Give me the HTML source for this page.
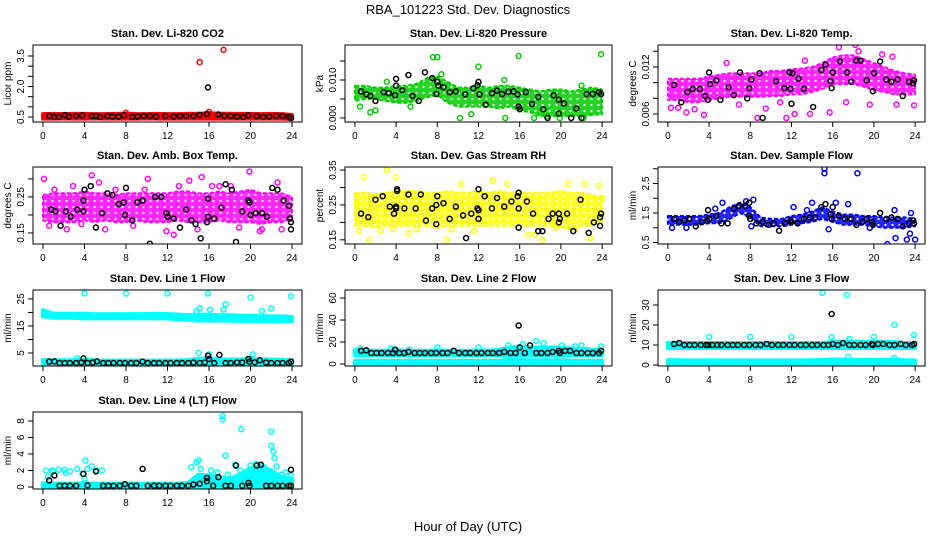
<!DOCTYPE html>
<html><head><meta charset="utf-8">
<style>
html,body{margin:0;padding:0;background:#fff;}
svg{display:block;font-family:"Liberation Sans",sans-serif;}
</style></head>
<body>
<svg id="fig" width="936" height="540" viewBox="0 0 936 540">
<text x="468" y="14" text-anchor="middle" font-size="13">RBA_101223  Std. Dev. Diagnostics</text>
<text x="468" y="531" text-anchor="middle" font-size="13">Hour of Day (UTC)</text>
</svg>
<script>
const xTicks=[0,4,8,12,16,20,24];
const hours=[0,1,2,3,4,5,6,7,8,9,10,11,12,13,14,15,16,17,18,19,20,21,22,23,24];

// Panel 1 CO2
const co2Lo=[0.42,0.42,0.43,0.42,0.42,0.43,0.42,0.42,0.42,0.42,0.43,0.42,0.42,0.42,0.42,0.42,0.42,0.42,0.42,0.42,0.42,0.42,0.42,0.42,0.40];
const co2Hi=[0.64,0.65,0.64,0.65,0.65,0.64,0.64,0.65,0.66,0.64,0.64,0.65,0.64,0.64,0.65,0.66,0.68,0.66,0.66,0.65,0.65,0.64,0.65,0.64,0.60];
const co2OutX=[15.1,17.4,16.0,8.0];
const co2OutY=[3.2,3.8,0.75,0.7];
const co2BlkX=[0.6,1.1,1.5,2.1,2.5,3.2,3.8,4.7,5.1,5.5,6.2,6.7,7.3,7.8,8.6,9.1,9.7,10.3,10.9,11.8,12.6,13.2,13.8,14.5,15.1,15.8,15.9,16.9,17.5,18.1,18.7,19.3,19.8,20.6,21.2,21.8,22.5,23.1,23.7,23.9];
const co2BlkY=[0.55,0.5,0.5,0.6,0.52,0.55,0.58,0.55,0.55,0.5,0.55,0.52,0.52,0.58,0.5,0.52,0.55,0.55,0.52,0.55,0.52,0.55,0.55,0.55,0.6,0.65,1.95,0.62,0.55,0.55,0.52,0.5,0.58,0.55,0.5,0.52,0.55,0.55,0.5,0.45];

// Panel 2 Pressure
const prLo=[0.0045,0.005,0.005,0.0045,0.004,0.004,0.0045,0.0055,0.006,0.004,0.003,0.003,0.003,0.003,0.0025,0.003,0.002,0.0015,0.0005,0.0005,0.0005,0.0005,0.0005,0.0008,0.001];
const prHi=[0.0085,0.0085,0.008,0.008,0.0085,0.0085,0.009,0.0105,0.011,0.0095,0.008,0.008,0.0085,0.008,0.0085,0.0085,0.008,0.0075,0.007,0.0075,0.0075,0.007,0.0075,0.008,0.0075];
const prOutX=[7.6,8.0,12.0,15.9,23.9,14.5,0.5,1.5,2.0,8.4,3.1,10.2,11.3,14.6,17.4,18.7,19.9,22.0,22.2,5.4];
const prOutY=[0.016,0.016,0.0135,0.0163,0.0168,0.010,0.003,0.0015,0.002,0.0115,0.0095,0.0,0.001,0.0,0.0,0.0005,0.0,0.0085,0.0,0.003];
const prBlkX=[0.6,1.1,1.5,2.0,2.8,3.3,3.9,4.0,4.0,4.6,5.2,5.6,6.2,6.8,7.5,7.9,8.0,8.1,8.6,9.2,9.8,10.7,11.5,11.9,12.0,12.1,12.7,13.3,13.8,14.3,14.9,15.4,15.8,15.9,16.0,16.6,17.2,17.8,18.3,18.7,19.3,19.8,19.8,20.3,21.0,21.5,22.0,22.5,23.1,23.7,23.9];
const prBlkY=[0.007,0.0062,0.0058,0.0045,0.0068,0.0065,0.006,0.0085,0.0103,0.0073,0.0113,0.0058,0.0045,0.012,0.0105,0.0063,0.0095,0.0085,0.0081,0.0068,0.007,0.0062,0.0078,0.0086,0.0095,0.0062,0.0035,0.0065,0.0072,0.0063,0.0069,0.007,0.0062,0.003,0.0023,0.0068,0.0037,0.0055,0.0023,0.0,0.006,0.0048,0.0012,0.0038,0.0,0.0025,0.0,0.0063,0.0063,0.0068,0.0063];

// Panel 3 Li-820 Temp
const ltLo=[0.0078,0.0078,0.0075,0.0075,0.0078,0.008,0.0082,0.0082,0.0082,0.0082,0.0083,0.0083,0.0085,0.0085,0.0088,0.0092,0.0098,0.0098,0.0098,0.0095,0.009,0.0088,0.0085,0.0085,0.0085];
const ltHi=[0.0105,0.0105,0.0105,0.0105,0.0108,0.011,0.0112,0.0112,0.0112,0.0112,0.0115,0.0115,0.0117,0.0118,0.012,0.0125,0.0132,0.0135,0.0135,0.013,0.0125,0.012,0.0115,0.0112,0.011];
const ltOutX=[16.6,18.2,18.5,3.5,8.7,11.5,12.3,13.8,15.7,19.6,20.8,21.8,23.9,1.0,1.8,5.7,0.3,2.6,9.5,17.3,22.2,6.9,10.9,13.3];
const ltOutY=[0.0145,0.0148,0.014,0.0059,0.0055,0.0055,0.006,0.006,0.0062,0.0072,0.0136,0.0133,0.0071,0.0068,0.0062,0.0125,0.0068,0.0066,0.0067,0.0075,0.0072,0.0072,0.0075,0.0128];
const ltBlkX=[0.6,1.3,1.9,2.4,3.1,3.6,3.9,4.0,4.1,4.7,5.1,5.9,6.4,7.0,7.7,7.9,8.1,8.9,9.2,10.5,11.3,11.8,11.9,12.0,12.1,12.7,13.2,14.1,14.9,15.3,15.8,15.9,16.0,16.7,17.4,17.8,18.3,18.7,19.3,19.9,20.0,20.6,21.2,21.7,22.3,22.8,23.4,23.8,23.9];
const ltBlkY=[0.0097,0.0075,0.0088,0.0092,0.0092,0.0083,0.0078,0.0113,0.0098,0.0103,0.0078,0.0094,0.0084,0.0113,0.008,0.0093,0.0104,0.0112,0.0055,0.0102,0.0093,0.0113,0.0092,0.0073,0.0112,0.0105,0.0092,0.0069,0.0116,0.0123,0.0102,0.0093,0.0113,0.0127,0.0113,0.0101,0.0128,0.0128,0.0103,0.0089,0.0112,0.0127,0.0104,0.0101,0.0104,0.0083,0.0101,0.0099,0.0103];

// Panel 4 Amb Box Temp
const abLo=[0.185,0.18,0.18,0.18,0.185,0.18,0.185,0.18,0.18,0.185,0.18,0.18,0.18,0.185,0.18,0.18,0.18,0.185,0.18,0.18,0.18,0.175,0.18,0.18,0.19];
const abHi=[0.255,0.26,0.26,0.26,0.265,0.26,0.26,0.255,0.26,0.26,0.26,0.26,0.26,0.265,0.265,0.26,0.26,0.265,0.26,0.265,0.27,0.26,0.26,0.26,0.25];
const abOutX=[0.1,4.7,10.1,15.3,19.9,6.0,12.6,17.0,20.9,0.6,2.3,1.1,2.9,5.4,7.0,8.7,9.8,14.1,14.9,16.3,18.1,21.1,22.6,23.0,3.7,11.9,13.1,18.9];
const abOutY=[0.30,0.31,0.30,0.305,0.32,0.16,0.145,0.28,0.155,0.17,0.16,0.27,0.28,0.29,0.27,0.17,0.27,0.295,0.16,0.28,0.28,0.16,0.29,0.16,0.175,0.155,0.28,0.165];
const abBlkX=[0.8,1.2,1.7,2.2,2.7,3.3,3.9,3.9,4.0,4.6,5.1,5.7,6.2,6.7,7.3,7.8,7.9,8.0,8.6,9.1,9.6,10.3,10.8,11.4,11.9,12.0,12.6,13.2,13.8,14.3,14.7,15.2,15.8,15.9,15.9,16.5,17.2,17.6,18.2,18.6,19.2,19.8,19.9,20.0,20.5,21.1,21.6,22.1,22.6,23.2,23.7,23.8,23.9,23.9];
const abBlkY=[0.215,0.21,0.17,0.21,0.195,0.215,0.21,0.24,0.27,0.28,0.165,0.205,0.26,0.255,0.23,0.235,0.2,0.275,0.185,0.235,0.24,0.12,0.25,0.25,0.205,0.195,0.19,0.165,0.215,0.185,0.175,0.135,0.18,0.195,0.245,0.19,0.22,0.285,0.27,0.125,0.21,0.24,0.235,0.2,0.205,0.205,0.195,0.275,0.27,0.24,0.225,0.19,0.18,0.16];

// Panel 5 Gas Stream RH
const rhLo=[0.19,0.19,0.185,0.19,0.19,0.19,0.19,0.19,0.185,0.19,0.19,0.19,0.19,0.19,0.19,0.19,0.19,0.19,0.19,0.19,0.185,0.18,0.19,0.19,0.2];
const rhHi=[0.285,0.285,0.28,0.285,0.29,0.29,0.29,0.285,0.285,0.29,0.285,0.285,0.29,0.285,0.29,0.285,0.285,0.285,0.285,0.285,0.29,0.285,0.285,0.28,0.27];
const rhOutX=[0.9,3.1,4.0,1.4,13.4,8.9,18.2,22.9,20.7,22.3,23.7,0.4,2.5,5.2,6.0,10.3,11.6,14.8,16.8,19.5,21.4,0.2,3.7,9.4,17.5,24.0];
const rhOutY=[0.33,0.35,0.33,0.15,0.32,0.15,0.15,0.155,0.31,0.31,0.305,0.175,0.175,0.17,0.18,0.31,0.175,0.31,0.165,0.185,0.18,0.255,0.18,0.18,0.165,0.27];
const rhBlkX=[0.6,1.3,2.0,2.7,3.4,3.8,4.0,4.0,4.1,4.1,4.8,5.2,5.9,6.4,6.9,7.5,7.9,7.9,8.0,8.6,9.2,9.8,10.5,10.8,11.3,11.9,12.0,12.0,12.0,12.6,13.3,13.8,14.5,15.2,15.8,15.9,15.9,15.9,16.7,17.3,17.8,18.2,18.8,19.2,19.8,19.8,19.9,20.6,21.2,21.9,22.7,23.2,23.8,23.8,23.9];
const rhBlkY=[0.225,0.215,0.265,0.275,0.245,0.225,0.24,0.245,0.29,0.295,0.24,0.28,0.24,0.28,0.205,0.24,0.25,0.195,0.275,0.255,0.21,0.245,0.22,0.155,0.225,0.24,0.235,0.21,0.295,0.275,0.24,0.27,0.245,0.26,0.275,0.185,0.24,0.285,0.26,0.225,0.175,0.175,0.21,0.225,0.2,0.225,0.21,0.225,0.175,0.265,0.17,0.2,0.19,0.215,0.225];

// Panel 6 Sample Flow
const sfLo=[1.1,1.1,1.1,1.1,1.15,1.15,1.3,1.5,1.35,1.05,1.05,1.05,1.1,1.15,1.2,1.3,1.2,1.1,1.1,1.1,1.05,1.0,1.0,1.0,1.05];
const sfHi=[1.4,1.4,1.4,1.4,1.45,1.5,1.7,1.85,1.7,1.35,1.3,1.3,1.4,1.45,1.55,1.7,1.55,1.45,1.45,1.4,1.4,1.35,1.35,1.35,1.3];
const sfOutX=[15.2,15.2,18.4,21.3,22.1,23.2,24.0,23.5,8.3,5.3,15.6,14.0,17.5,0.4,1.8,4.6,7.6,12.2,13.5,16.3,19.6,22.0,23.6,8.1];
const sfOutY=[3.0,2.85,2.85,0.45,0.65,0.6,0.6,0.8,1.95,1.85,0.95,1.85,1.8,1.0,1.0,1.65,1.9,1.7,1.6,1.85,1.0,1.6,1.5,1.05];
const sfBlkX=[0.6,1.1,1.6,2.1,2.7,3.3,3.8,3.9,4.0,4.7,5.2,5.8,6.4,6.9,7.5,7.9,7.9,8.0,8.6,9.2,9.8,10.3,10.8,11.4,11.9,12.0,12.6,13.2,13.8,14.3,14.9,15.3,15.8,15.9,16.0,16.6,17.2,17.8,18.3,18.9,19.3,19.8,19.9,20.6,21.2,21.7,22.3,22.8,23.4,23.8,23.9];
const sfBlkY=[1.3,1.2,1.25,1.3,1.05,1.2,1.25,1.6,1.3,1.4,1.15,1.15,1.65,1.75,1.75,1.85,1.4,1.3,1.15,1.2,1.1,1.15,0.9,1.15,1.25,1.2,1.15,1.3,1.35,1.35,1.7,1.8,1.45,1.3,1.7,1.4,1.3,1.3,1.1,1.2,1.3,1.2,1.1,1.5,1.3,1.35,1.3,1.05,1.15,1.25,1.15];

// Shared black x for line flows
const lfBlkX=[0.6,1.1,1.6,2.1,2.6,3.2,3.7,3.9,4.3,4.8,5.2,5.8,6.3,6.8,7.4,7.9,8.5,9.0,9.6,10.1,10.7,11.2,11.8,12.3,12.9,13.4,14.0,14.5,15.1,15.6,15.9,16.0,16.5,17.0,17.6,18.1,18.7,19.2,19.8,19.9,20.4,20.9,21.5,22.0,22.6,23.1,23.7,23.9];

// Panel 7 Line 1
const l1aLo=[18.5,18.0,18.0,18.0,17.8,17.8,17.8,17.8,17.8,17.8,17.8,17.8,17.8,17.5,17.3,17.0,17.0,17.0,17.0,16.8,16.8,16.8,16.8,16.8,16.8];
const l1aHi=[20.8,19.6,19.5,19.5,19.5,19.3,19.3,19.3,19.4,19.4,19.4,19.5,19.4,19.2,19.0,19.2,19.2,19.0,19.0,18.8,18.8,18.6,18.6,18.5,18.3];
const l1bLo=[0.3,0.3,0.3,0.3,0.3,0.3,0.3,0.3,0.3,0.3,0.3,0.3,0.3,0.3,0.3,0.3,0.3,0.3,0.3,0.3,0.3,0.3,0.3,0.3,0.3];
const l1bHi=[2.4,2.3,2.3,2.3,2.4,2.3,2.2,2.2,2.2,2.2,2.2,2.2,2.2,2.2,2.4,2.8,3.0,2.6,2.6,2.6,2.8,2.6,2.6,2.4,2.3];
const l1OutX=[4.0,8.0,12.0,15.9,20.0,23.9,15.1,17.6,22.0,15.0,16.0,20.2,3.3,16.1,21.1,17.4,14.8];
const l1OutY=[27,27,27,27,25.5,26,21.5,23,21.5,5,4.5,4.5,3,21,20.5,21,20.5];
const l1BlkY=[1.8,1.9,1.3,1.3,1.3,1.3,1.5,3.0,1.3,1.5,1.9,1.3,1.3,1.3,1.3,1.3,1.3,1.3,1.8,1.3,1.3,1.3,1.3,1.3,1.3,1.3,1.3,1.5,1.3,1.5,4.0,2.8,1.3,4.3,1.3,1.3,1.5,1.5,2.8,1.8,1.6,2.3,1.5,1.3,1.3,1.3,1.3,1.8];

// Panel 8 Line 2
const l2aLo=[8,8,8,8,8,8,8,8,8,8,8,8,8,8,8,8,8,8,8,8,8,8,8,8,8];
const l2aHi=[13,12.5,12,12,12.5,12,12,12,12.5,12,12,12,12.5,12,13,15,16,15,15,15,15,14,14,13,13];
const l2bLo=[0,0,0,0,0,0,0,0,0,0,0,0,0,0,0,0,0,0,0,0,0,0,0,0,0];
const l2bHi=[3,3,3,3,3,3,3,3,3,3,3,3,3,3,3,4,4,3.5,3.5,3.5,3.5,3,3,3,3];
const l2OutX=[15.0,17.6,18.3,0.5,3.5,8.0,12.0,14.9,16.3,20.1,21.4,22.0,23.9,5.3];
const l2OutY=[70,21,19,14,14,15,15,17,18,17,16,17,16,13];
const l2BlkY=[12,12.5,10,10,10,10,10,13,10,10,11,10,10,10,10,10,10,10,12,10,10,10,10,10,10,10,10,11,10,10,35,15,10,17,10,10,10,11,12,10,12,12,10,10,10,10,10,12];

// Panel 9 Line 3
const l3aLo=[8.5,8.5,8.5,8.5,8.5,8.5,8.5,8.5,8.5,8.5,8.5,8.5,8.5,8.5,8.5,8.5,8.5,8.5,8.5,8.5,8.5,8.5,8.5,8.5,8.5];
const l3aHi=[11,11,11,11,11,11,11,11,11,11,11,11,11,11,11,11,11.5,11.5,11.5,11.5,11.5,11.5,11.5,11,11];
const l3bLo=[0.5,0.5,0.5,0.5,0.5,0.5,0.5,0.5,0.5,0.5,0.5,0.5,0.5,0.5,0.5,0.5,0.5,0.5,0.5,0.5,0.5,0.5,0.5,0.5,0.5];
const l3bHi=[2.5,2.4,2.3,2.3,2.4,2.3,2.3,2.3,2.3,2.3,2.3,2.3,2.3,2.3,2.4,2.5,2.8,2.6,2.5,2.5,2.5,2.6,2.6,2.4,2.3];
const l3OutX=[15.0,17.4,22.0,4.0,8.0,12.0,15.9,17.6,20.0,23.9,17.5,22.0];
const l3OutY=[36,35,20,14,14,14,14,13,14,15,4,3.5];
const l3BlkY=[10.5,11,10,10,10,10,10,10,10,10,10,10,10,10,10,10,10,10,10.5,10,10,10,10,10,10,10,10,10,10,10,25.5,10.5,10,11,10,10,10,10,10.5,10,10.5,10.5,10,10,10.5,10,10,10.5];

// Panel 10 Line 4
const l4Lo=[0,0,0,0,0,0,0,0,0,0,0,0,0,0,0,0,0,0,0,0,0,0,0,0,0];
const l4Hi=[0.45,0.4,0.4,0.4,0.45,0.4,0.4,0.4,0.4,0.4,0.4,0.4,0.4,0.4,0.5,1.5,1.4,1.2,1.0,1.5,2.3,2.5,2.0,1.2,1.0];
const l4OutX=[17.3,17.3,19.1,22.0,22.0,22.2,22.3,17.6,4.1,0.3,0.5,0.9,1.5,2.1,2.2,3.3,3.8,4.3,4.7,5.2,5.7,4.0,14.3,14.8,15.0,15.2,15.5,16.2,17.8,18.5,19.0,19.5,20.0,20.5,21.0,21.5,22.5,23.0,23.4,23.9,18.0,19.8,21.8,23.1,1.0,2.6,16.8,21.3];
const l4OutY=[8.6,8.2,7.0,6.7,5.0,4.3,3.5,3.8,3.2,2.0,1.2,2.0,2.1,2.1,1.7,2.2,1.6,2.2,2.5,2.0,2.0,1.0,2.4,3.0,3.2,2.2,1.0,2.0,1.5,2.7,2.0,1.5,2.6,2.8,2.5,2.0,2.5,1.5,1.8,1.4,1.0,0.8,1.6,0.8,1.9,1.9,1.8,2.4];
const l4BlkX=[0.6,1.1,1.6,2.1,2.6,3.2,3.9,4.3,5.1,5.8,6.3,6.8,7.4,7.9,8.5,9.0,9.6,10.1,10.7,11.2,11.8,12.3,12.9,13.4,14.0,14.5,15.1,15.8,15.8,16.4,16.9,17.6,18.1,18.6,19.2,19.8,19.9,20.6,21.0,21.5,22.0,22.6,23.1,23.7,23.9,23.9];
const l4BlkY=[0.8,1.4,0.15,0.15,0.15,0.15,1.6,0.2,1.9,0.15,0.15,0.15,0.15,0.35,0.15,0.15,2.2,0.15,0.15,0.15,0.15,0.15,0.15,0.15,0.15,0.3,0.4,1.1,0.7,0.15,1.2,0.15,0.15,2.6,0.15,0.5,0.15,2.6,2.7,0.15,0.15,0.15,0.15,0.15,2.1,0.15];

const cols=[[33,302],[345,612],[658,925]];
const rows=[[45,122],[167,244],[290,366],[412,489]];
const NS='http://www.w3.org/2000/svg';
const svg=document.getElementById('fig');

function mk(tag,attrs,parent){const e=document.createElementNS(NS,tag);for(const k in attrs)e.setAttribute(k,attrs[k]);(parent||svg).appendChild(e);return e;}

const defs=mk('defs',{});

const panels=[
 {c:0,r:0,title:'Stan. Dev. Li-820 CO2',ylab:'Licor ppm',color:'#ff0000',tex:false,dom:[0.254,4.04],ticks:[0.5,1,1.5,2,2.5,3,3.5],labels:[[0.5,'0.5'],[2,'2.0'],[3.5,'3.5']],bands:[[co2Lo,co2Hi]],ox:co2OutX,oy:co2OutY,bx:co2BlkX,by:co2BlkY,key:'co2'},
 {c:1,r:0,title:'Stan. Dev. Li-820 Pressure',ylab:'kPa',color:'#00cd00',tex:true,dom:[-0.00105,0.0192],ticks:[0,0.005,0.01,0.015],labels:[[0,'0.000'],[0.01,'0.010']],bands:[[prLo,prHi]],ox:prOutX,oy:prOutY,bx:prBlkX,by:prBlkY,key:'pressure'},
 {c:2,r:0,title:'Stan. Dev. Li-820 Temp.',ylab:'degrees C',color:'#ff00ff',tex:true,dom:[0.00498,0.0148],ticks:[0.006,0.008,0.01,0.012,0.014],labels:[[0.006,'0.006'],[0.012,'0.012']],bands:[[ltLo,ltHi]],ox:ltOutX,oy:ltOutY,bx:ltBlkX,by:ltBlkY,key:'licor-temp'},
 {c:0,r:1,title:'Stan. Dev. Amb. Box Temp.',ylab:'degrees C',color:'#ff00ff',tex:true,dom:[0.1194,0.333],ticks:[0.15,0.2,0.25,0.3],labels:[[0.15,'0.15'],[0.25,'0.25']],bands:[[abLo,abHi]],ox:abOutX,oy:abOutY,bx:abBlkX,by:abBlkY,key:'amb-box-temp'},
 {c:1,r:1,title:'Stan. Dev. Gas Stream RH',ylab:'percent',color:'#ffff00',tex:true,dom:[0.138,0.3588],ticks:[0.15,0.2,0.25,0.3,0.35],labels:[[0.15,'0.15'],[0.25,'0.25'],[0.35,'0.35']],bands:[[rhLo,rhHi]],ox:rhOutX,oy:rhOutY,bx:rhBlkX,by:rhBlkY,key:'gas-rh'},
 {c:2,r:1,title:'Stan. Dev. Sample Flow',ylab:'ml/min',color:'#0000ff',tex:true,dom:[0.45,3.06],ticks:[0.5,1,1.5,2,2.5,3],labels:[[0.5,'0.5'],[1.5,'1.5'],[2.5,'2.5']],bands:[[sfLo,sfHi]],ox:sfOutX,oy:sfOutY,bx:sfBlkX,by:sfBlkY,key:'sample-flow'},
 {c:0,r:2,title:'Stan. Dev. Line 1 Flow',ylab:'ml/min',color:'#00ffff',tex:false,dom:[0.19,28.3],ticks:[5,10,15,20,25],labels:[[5,'5'],[15,'15'],[25,'25']],bands:[[l1aLo,l1aHi],[l1bLo,l1bHi]],ox:l1OutX,oy:l1OutY,bx:lfBlkX,by:l1BlkY,key:'line1-flow'},
 {c:1,r:2,title:'Stan. Dev. Line 2 Flow',ylab:'ml/min',color:'#00ffff',tex:false,dom:[-1.8,67.3],ticks:[0,20,40,60],labels:[[0,'0'],[20,'20'],[40,'40'],[60,'60']],bands:[[l2aLo,l2aHi],[l2bLo,l2bHi]],ox:l2OutX,oy:l2OutY,bx:lfBlkX,by:l2BlkY,key:'line2-flow'},
 {c:2,r:2,title:'Stan. Dev. Line 3 Flow',ylab:'ml/min',color:'#00ffff',tex:false,dom:[-0.5,37.5],ticks:[0,10,20,30],labels:[[0,'0'],[10,'10'],[20,'20'],[30,'30']],bands:[[l3aLo,l3aHi],[l3bLo,l3bHi]],ox:l3OutX,oy:l3OutY,bx:lfBlkX,by:l3BlkY,key:'line3-flow'},
 {c:0,r:3,title:'Stan. Dev. Line 4 (LT) Flow',ylab:'ml/min',color:'#00ffff',tex:false,dom:[-0.24,9.09],ticks:[0,2,4,6,8],labels:[[0,'0'],[2,'2'],[4,'4'],[6,'6'],[8,'8']],bands:[[l4Lo,l4Hi]],ox:l4OutX,oy:l4OutY,bx:l4BlkX,by:l4BlkY,key:'line4-flow'}
];

panels.forEach(p=>{
  const [x0,x1]=cols[p.c],[y0,y1]=rows[p.r];
  let fill=p.color;
  if(p.tex){
    const pid='tex-'+p.key;
    const pat=mk('pattern',{id:pid,width:7,height:6,patternUnits:'userSpaceOnUse'},defs);
    mk('rect',{width:7,height:6,fill:p.color,'fill-opacity':0.85},pat);
    mk('circle',{cx:3.5,cy:3,r:1.1,fill:'#fff'},pat);
    fill='url(#'+pid+')';
  }
  const g=mk('g',{});
  
  
  const xs=h=>x0+(h+0.96)/25.92*(x1-x0);
  const ys=v=>y1-(v-p.dom[0])/(p.dom[1]-p.dom[0])*(y1-y0);
  const clipId='clip-'+p.key;
  const cp=mk('clipPath',{id:clipId},g);
  mk('rect',{x:x0,y:y0,width:x1-x0,height:y1-y0},cp);
  const plot=mk('g',{'clip-path':'url(#'+clipId+')'},g);
  p.bands.forEach(b=>{
    const pts=[];
    hours.forEach((h,i)=>pts.push(xs(h).toFixed(1)+','+ys(b[1][i]).toFixed(1)));
    for(let i=hours.length-1;i>=0;i--)pts.push(xs(hours[i]).toFixed(1)+','+ys(b[0][i]).toFixed(1));
    const poly=mk('polygon',{points:pts.join(' '),fill:fill,stroke:p.color,'stroke-width':p.tex?2:4,'stroke-linejoin':'round','stroke-dasharray':p.tex?'4 2':'none'},plot);
    
    
  });
  const n1=Math.min(p.ox.length,p.oy.length);
  for(let i=0;i<n1;i++){
    const c=mk('circle',{cx:xs(p.ox[i]),cy:ys(p.oy[i]),r:2.5,fill:'none',stroke:p.color,'stroke-width':1.5},plot);
    
    
  }
  const n2=Math.min(p.bx.length,p.by.length);
  for(let i=0;i<n2;i++){
    const c=mk('circle',{cx:xs(p.bx[i]),cy:ys(p.by[i]),r:2.5,fill:'none',stroke:'#000','stroke-width':1.5},plot);
    
    
  }
  const box=mk('rect',{x:x0,y:y0,width:x1-x0,height:y1-y0,fill:'none',stroke:'#000','stroke-width':1},g);
  
  
  const t=mk('text',{x:(x0+x1)/2,y:y0-8,'text-anchor':'middle','font-size':11,'font-weight':'bold'},g);
  t.textContent=p.title;
  
  
  xTicks.forEach(h=>{
    mk('line',{x1:xs(h),x2:xs(h),y1:y1,y2:y1+5,stroke:'#000'},g);
    const tl=mk('text',{x:xs(h),y:y1+17,'text-anchor':'middle','font-size':10},g);
    tl.textContent=h;
    
    
  });
  p.ticks.forEach(v=>mk('line',{x1:x0-5,x2:x0,y1:ys(v),y2:ys(v),stroke:'#000'},g));
  p.labels.forEach(l=>{
    const lx=x0-9,ly=ys(l[0]);
    const tl=mk('text',{x:lx,y:ly,'text-anchor':'middle','font-size':10,transform:'rotate(-90 '+lx+' '+ly+')'},g);
    tl.textContent=l[1];
    
    
  });
  const yx=x0-22,yy=(y0+y1)/2;
  const yl=mk('text',{x:yx,y:yy,'text-anchor':'middle','font-size':10,transform:'rotate(-90 '+yx+' '+yy+')'},g);
  yl.textContent=p.ylab;
  
  
});
</script>
</body></html>
